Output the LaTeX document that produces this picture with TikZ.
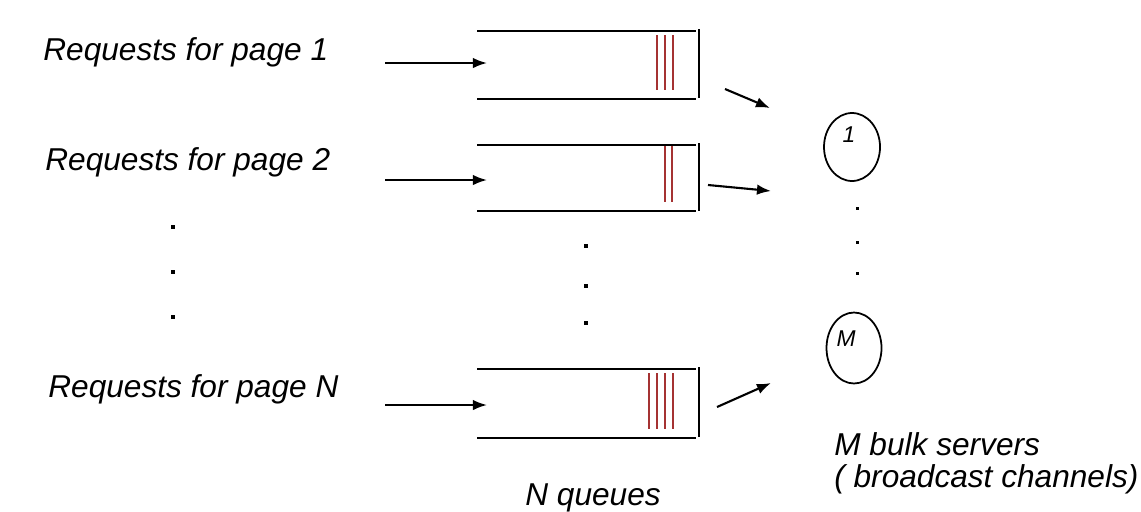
\documentclass[tikz,border=0pt]{standalone}
\usepackage{fontspec}
\setmainfont{Liberation Sans}
\usetikzlibrary{arrows.meta,shapes.geometric}

\tikzset{
  lbl/.style={font=\fontsize{18}{21}\selectfont\itshape, inner sep=0pt},
  qline/.style={line width=1.4pt},
  pkt/.style={line width=1.2pt, color=pktred},
  feed/.style={line width=1.2pt, -{Latex[length=8pt,width=6pt]}},
  server/.style={draw, ellipse, line width=1pt, minimum width=56*0.02cm, minimum height=68*0.02cm, inner sep=0pt},
  dotmark/.style={fill=black, inner sep=0pt, minimum size=4*0.02cm}
}
\definecolor{pktred}{RGB}{165,50,50}

\begin{document}
\begin{tikzpicture}[x=0.02cm, y=-0.02cm]
   \useasboundingbox (0,0) rectangle (1141,511);
   % request labels
   \node[lbl, anchor=base west] (req1) at (43,60) {Requests for page 1};
   \node[lbl, anchor=base west] (req2) at (45,170) {Requests for page 2};
   \node[lbl, anchor=base west] (reqN) at (48,397) {Requests for page N};
   \node[dotmark] (ld1) at (173,227) {};
   \node[dotmark] (ld2) at (173,272) {};
   \node[dotmark] (ld3) at (173,317) {};
   % queue 1
   \draw[qline] (477,31) -- (696,31);
   \draw[qline] (477,99) -- (696,99);
   \draw[qline] (699,29) -- (699,98);
   \draw[pkt] (657,35) -- (657,90);
   \draw[pkt] (665,35) -- (665,90);
   \draw[pkt] (673,35) -- (673,90);
   % queue 2
   \draw[qline] (477,145) -- (696,145);
   \draw[qline] (477,211) -- (696,211);
   \draw[qline] (699,143) -- (699,211);
   \draw[pkt] (665,146) -- (665,202);
   \draw[pkt] (672,146) -- (672,202);
   % queue N
   \draw[qline] (477,369) -- (696,369);
   \draw[qline] (477,438) -- (696,438);
   \draw[qline] (699,367) -- (699,437);
   \draw[pkt] (649,373) -- (649,429);
   \draw[pkt] (657,373) -- (657,429);
   \draw[pkt] (665,373) -- (665,429);
   \draw[pkt] (673,373) -- (673,429);
   \node[dotmark] (md1) at (586,246) {};
   \node[dotmark] (md2) at (586,286) {};
   \node[dotmark] (md3) at (586,323) {};
   \node[lbl, anchor=base west] (nq) at (525,505) {N queues};
   % arrivals
   \coordinate (a1) at (385,63);  \coordinate (b1) at (487,63);
   \coordinate (a2) at (385,180); \coordinate (b2) at (487,180);
   \coordinate (aN) at (385,405); \coordinate (bN) at (487,405);
   \draw[feed] (a1) -- (b1);
   \draw[feed] (a2) -- (b2);
   \draw[feed] (aN) -- (bN);
   % servers
   \node[server] (s1) at (852,147) {};
   \node[server, minimum width=55*0.02cm, minimum height=71*0.02cm] (sM) at (854,348) {};
   \node[font=\fontsize{13}{15}\selectfont\itshape, inner sep=0pt] (s1lbl) at (849,135) {1};
   \node[font=\fontsize{13}{15}\selectfont\itshape, inner sep=0pt] (sMlbl) at (846,339) {M};
   \node[dotmark, minimum size=3*0.02cm] (rd1) at (857,208) {};
   \node[dotmark, minimum size=3*0.02cm] (rd2) at (857,242) {};
   \node[dotmark, minimum size=3*0.02cm] (rd3) at (857,273) {};
   \coordinate (o1) at (725,89);  \coordinate (t1) at (770,108);
   \coordinate (o2) at (708,185); \coordinate (t2) at (771,191);
   \coordinate (oN) at (717,407); \coordinate (tN) at (771,383);
   \draw[feed] (o1) -- (t1);
   \draw[feed] (o2) -- (t2);
   \draw[feed] (oN) -- (tN);
   \node[lbl, anchor=base west] (srv1) at (834,455) {M bulk servers};
   \node[lbl, anchor=base west] (srv2) at (834,487) {( broadcast channels)};
\end{tikzpicture}
\end{document}
